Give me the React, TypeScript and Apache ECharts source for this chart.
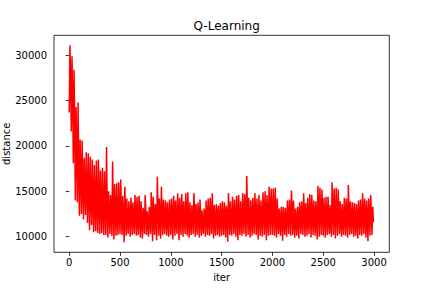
import React, { useEffect, useRef } from "react";
import * as echarts from "echarts";

// Each bin spans 20 iterations: the lowest, highest and a typical distance seen in that bin.
const binSize = 20;
const binHighs = [
  31100, 29900, 28400, 24300, 24800, 20700, 20600, 18700, 19300, 19200,
  18800, 18500, 17900, 18400, 18500, 17300, 17600, 17200, 19900, 15000,
  14600, 18300, 15800, 15900, 16000,
  16300, 14500, 15500, 14200, 13900, 14300, 13800, 14600, 14400, 14500,
  13900, 13200, 14600, 12800, 13300, 14900, 14400, 13600, 16600, 14200,
  15500, 14100, 14000, 13800, 14100,
  14200, 14500, 14000, 14800, 14300, 14700, 13900, 14800, 14900, 13800,
  13500, 14800, 13600, 13800, 14100, 12900, 13100, 14000, 14200, 14300,
  14800, 13500, 13600, 13400, 13700,
  13900, 13800, 13400, 14800, 13900, 14400, 14100, 14500, 14600, 13900,
  14800, 14700, 16700, 14300, 14000, 14300, 14800, 14200, 14600, 14000,
  14900, 15000, 14600, 15500, 15300,
  15300, 15400, 14200, 13100, 13300, 13300, 13200, 14000, 14100, 15100,
  14000, 13100, 13300, 13800, 13900, 14800, 13700, 14300, 14700, 14600,
  14000, 13900, 15600, 15400, 15200,
  14300, 14400, 14400, 13500, 16000, 15300, 15400, 15200, 13900, 13600,
  14300, 14200, 15700, 13900, 13800, 13700, 13600, 14000, 14100, 14800,
  14200, 14000, 14200, 14600, 13300,
];
const binLows = [
  23700, 21600, 18100, 14000, 13800, 12300, 12500, 11900, 12400, 11500,
  10700, 11300, 10500, 10600, 10400, 10300, 10400, 10200, 10200, 9900,
  10300, 10100, 9700, 10100, 10200,
  10300, 10200, 9400, 10100, 10300, 10000, 10200, 10300, 10100, 10200,
  9900, 9800, 10300, 10200, 10000, 10300, 9500, 10200, 9600, 10100,
  9800, 10200, 10300, 10100, 10000,
  10200, 9700, 10100, 10300, 9600, 10200, 10000, 10300, 10100, 9900,
  10200, 10300, 10000, 10200, 9900, 10100, 10300, 10000, 10200, 10100,
  10300, 9800, 10100, 10200, 10000,
  10100, 10200, 9900, 9450, 10200, 10100, 10300, 10000, 9600, 10200,
  10100, 10300, 10000, 10200, 9900, 10100, 10300, 10200, 9700, 10100,
  10000, 10200, 9600, 10100, 10200,
  10200, 10100, 9900, 10300, 10100, 9550, 10200, 10000, 10300, 10100,
  10200, 9900, 10100, 9800, 10300, 10200, 10000, 10100, 10300, 9900,
  10200, 10100, 9700, 10000, 10200,
  10100, 9900, 10200, 10300, 10000, 10200, 9800, 10100, 10300, 10000,
  10200, 10100, 9900, 10200, 10300, 10000, 10100, 9800, 10200, 10100,
  10300, 9900, 9500, 10100, 10200,
];
const binMids = [
  27000, 25000, 22000, 19500, 17000, 16500, 15500, 14800, 15000, 14500,
  14000, 13800, 13500, 13200, 13600, 13000, 12800, 12600, 13000, 12500,
  12200, 12700, 12300, 12000, 12400,
  12400, 11800, 12600, 11500, 12100, 12800, 11700, 12300, 11900, 12500,
  11600, 12200, 12700, 11400, 12000, 12600, 11800, 12300, 12900, 11700,
  12400, 11900, 12200, 11600, 12500,
  12100, 12700, 11500, 12300, 11900, 12600, 11800, 12400, 12000, 11600,
  12200, 12800, 11700, 12300, 11900, 11400, 12500, 12100, 11800, 12600,
  12200, 11700, 12400, 11900, 12300,
  11800, 12400, 12000, 12700, 11600, 12300, 11900, 12500, 12100, 11700,
  12600, 12200, 12900, 11800, 12300, 12000, 12600, 11700, 12400, 12100,
  12700, 12300, 11900, 12800, 12400,
  12500, 12200, 11800, 11600, 12100, 11900, 11500, 12300, 12000, 12600,
  11800, 11500, 12000, 12300, 11700, 12500, 12100, 11800, 12600, 12300,
  11900, 12200, 12800, 12400, 12600,
  12000, 12300, 11800, 11600, 12700, 12400, 12200, 12600, 11800, 11700,
  12200, 12000, 12500, 11800, 12100, 11700, 11900, 12300, 12000, 12400,
  12100, 11800, 12200, 12500, 11600,
];
const xTicks = [0, 500, 1000, 1500, 2000, 2500, 3000];
const yTicks = [10000, 15000, 20000, 25000, 30000];

export default function App() {
  const ref = useRef<HTMLDivElement>(null);
  useEffect(() => {
    if (!ref.current) return;
    const chart = echarts.init(ref.current, null, { renderer: "svg" });
    const data: number[][] = [];
    for (let i = 0; i < binLows.length; i++) {
      data.push([i * binSize, binLows[i]]);
      data.push([i * binSize + 7, binHighs[i]]);
      data.push([i * binSize + 14, binMids[i]]);
    }
    const font = "DejaVu Sans";
    chart.setOption({
      animation: false,
      title: {
        text: "Q-Learning",
        left: 221.7,
        textAlign: "center",
        top: 15,
        textStyle: { fontFamily: font, fontSize: 12, fontWeight: "normal", color: "#000" },
      },
      grid: {
        left: 54,
        right: 42.7,
        top: 35.3,
        bottom: 35.7,
        containLabel: false,
        outerBoundsMode: "none",
        show: true,
        borderColor: "#000",
        borderWidth: 0.8,
        backgroundColor: "#fff",
      },
      xAxis: {
        type: "value",
        min: -150,
        max: 3150,
        name: "iter",
        nameLocation: "middle",
        nameGap: 20,
        nameMoveOverlap: false,
        nameTextStyle: { fontFamily: font, fontSize: 10, color: "#000" },
        splitLine: { show: false },
        axisLine: { show: false },
        axisTick: { show: true, inside: false, length: 3.5, customValues: xTicks, lineStyle: { color: "#000", width: 0.8 } },
        axisLabel: {
          customValues: xTicks,
          margin: 5,
          fontFamily: font,
          fontSize: 10,
          color: "#000",
          formatter: (v: number) => String(v),
        },
      },
      yAxis: {
        type: "value",
        min: 8280,
        max: 32200,
        name: "distance",
        nameLocation: "middle",
        nameGap: 43,
        nameMoveOverlap: false,
        nameTextStyle: { fontFamily: font, fontSize: 10, color: "#000" },
        splitLine: { show: false },
        axisLine: { show: false },
        axisTick: { show: true, inside: false, length: 3.5, customValues: yTicks, lineStyle: { color: "#000", width: 0.8 } },
        axisLabel: {
          customValues: yTicks,
          margin: 7,
          fontFamily: font,
          fontSize: 10,
          color: "#000",
          formatter: (v: number) => String(v),
        },
      },
      series: [
        {
          type: "line",
          data,
          showSymbol: false,
          lineStyle: { color: "#ff0000", width: 1.5 },
          itemStyle: { color: "#ff0000" },
        },
      ],
    });
    return () => chart.dispose();
  }, []);
  return <div ref={ref} style={{ width: 432, height: 288, position: "absolute", left: 0, top: 0 }} />;
}
